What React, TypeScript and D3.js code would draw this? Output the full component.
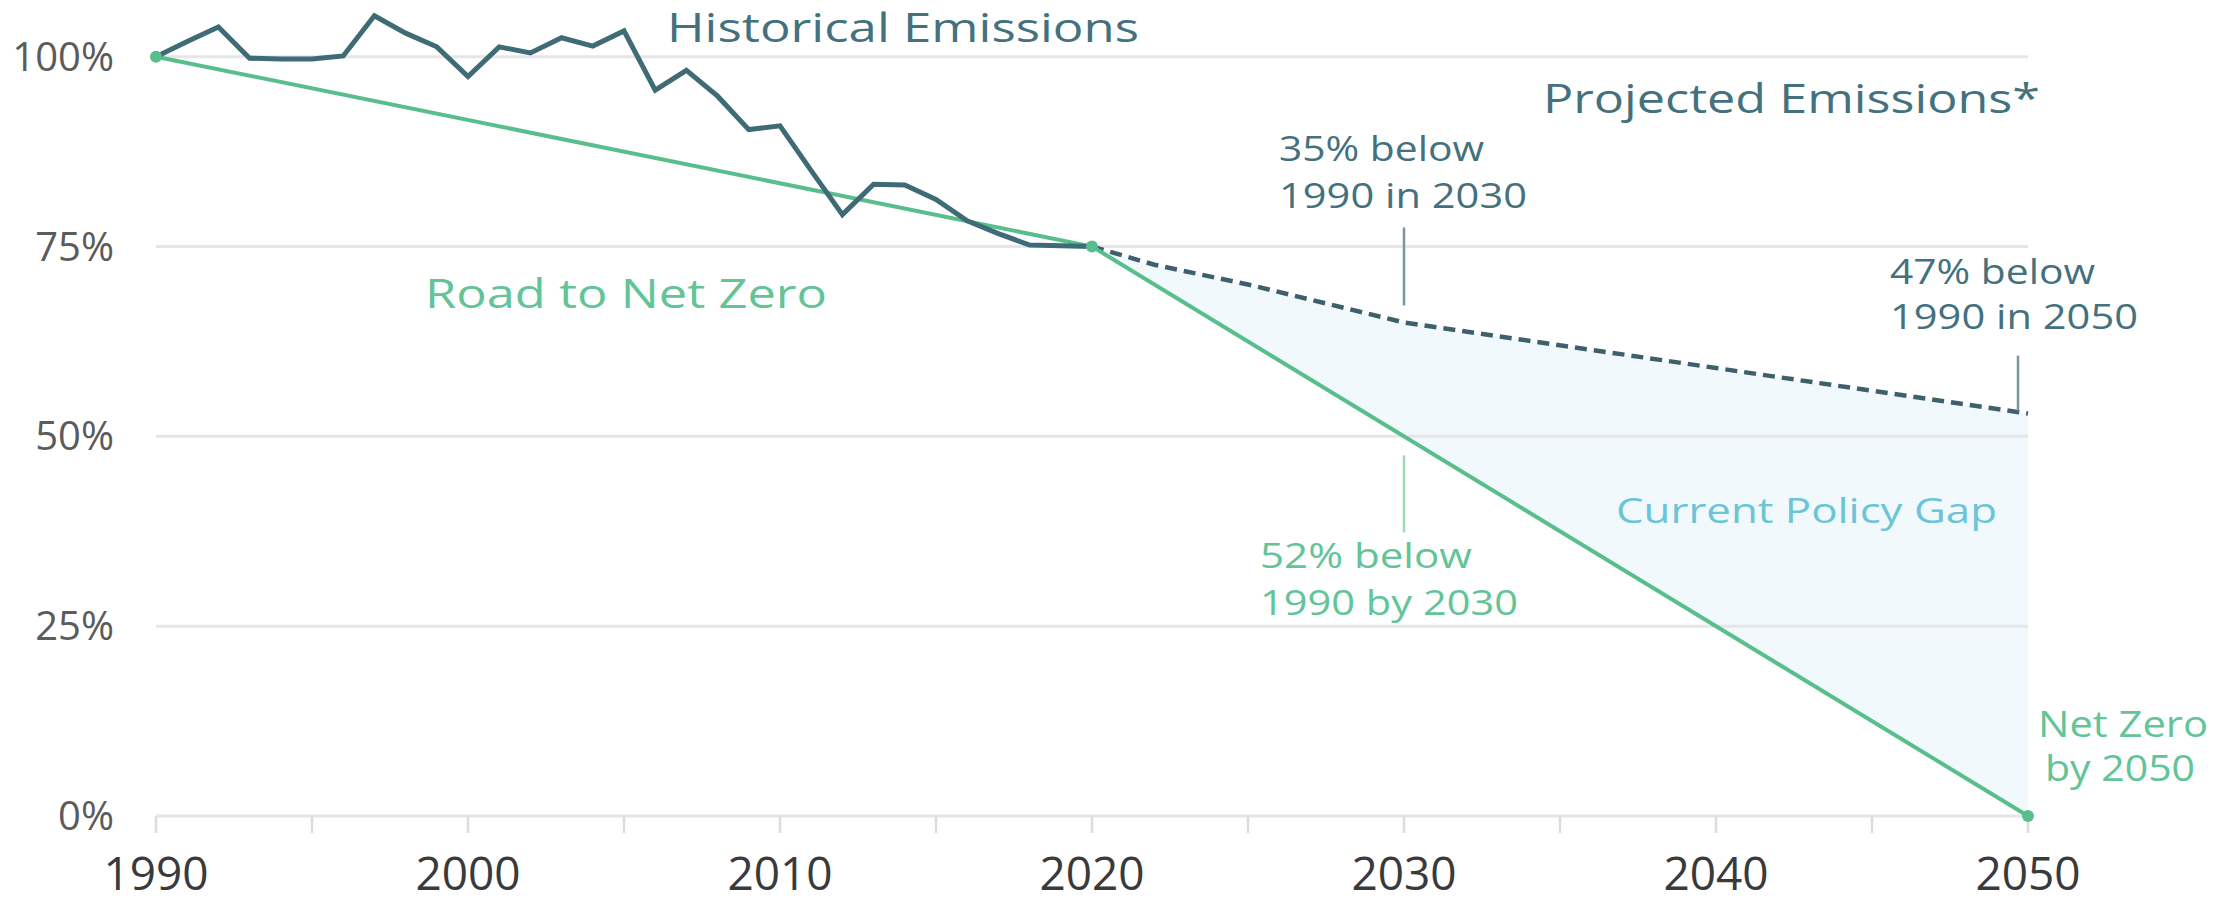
import React from "react";
import * as d3 from "d3";

const W = 2213;
const H = 904;

const histYears = d3.range(1990, 2021);
const historical = [
  100, 102, 103.9, 99.8, 99.7, 99.7, 100.1, 105.4, 103.1, 101.3, 97.4,
  101.3, 100.5, 102.5, 101.4, 103.4, 95.6, 98.2, 94.8, 90.4, 90.9,
  85.0, 79.2, 83.2, 83.1, 81.2, 78.4, 76.7, 75.2, 75.1, 75.0,
];

const projYears = [2020, 2022, 2025, 2030, 2040, 2050];
const projected = [75, 72.6, 70, 65, 59, 53];

const netZeroYears = [1990, 2020, 2050];
const netZero = [100, 75, 0];

const yTicks = [0, 25, 50, 75, 100];
const yTickLabels = ["0%", "25%", "50%", "75%", "100%"];
const xLabelYears = [1990, 2000, 2010, 2020, 2030, 2040, 2050];
const xTickYears = d3.range(1990, 2051, 5);

const FONT = "'Open Sans', 'Noto Sans', sans-serif";
const TEAL = "#3f6b77";
const TEAL_TEXT = "#44717d";
const GREEN = "#58be8c";
const GREEN_TEXT = "#62c497";

export default function App() {
  const x = d3.scaleLinear().domain([1990, 2050]).range([156, 2028]);
  const y = d3.scaleLinear().domain([0, 100]).range([816, 56.7]);

  const line = d3
    .line<[number, number]>()
    .x((d) => x(d[0]))
    .y((d) => y(d[1]));

  const histPts = histYears.map((yr, i) => [yr, historical[i]] as [number, number]);
  const projPts = projYears.map((yr, i) => [yr, projected[i]] as [number, number]);
  const nzPts = netZeroYears.map((yr, i) => [yr, netZero[i]] as [number, number]);

  const gapPts: [number, number][] = [
    ...projPts,
    ...nzPts.filter((p) => p[0] >= 2020).reverse(),
  ];
  const gapPath = line(gapPts) + "Z";

  const x2030 = x(2030);
  const x2050 = x(2050);

  return (
    <svg
      width={W}
      height={H}
      style={{ position: "absolute", left: 0, top: 0, background: "#fff" }}
      fontFamily={FONT}
    >
      <rect x={0} y={0} width={W} height={H} fill="#fff" />
      {/* shaded gap */}
      <path d={gapPath} fill="#f1f9fc" stroke="none" />

      {/* gridlines */}
      {yTicks.map((t) => (
        <line
          key={t}
          x1={x(1990)}
          x2={x(2050)}
          y1={y(t)}
          y2={y(t)}
          stroke="#e6e6e6"
          strokeWidth={3}
        />
      ))}
      {/* x ticks */}
      {xTickYears.map((yr) => (
        <line
          key={yr}
          x1={x(yr)}
          x2={x(yr)}
          y1={y(0)}
          y2={y(0) + 17}
          stroke="#dcdcdc"
          strokeWidth={2.5}
        />
      ))}

      {/* y labels */}
      {yTicks.map((t, i) => (
        <text
          key={t}
          x={114}
          y={y(t) + 14}
          textAnchor="end"
          fontSize={40}
          fill="#5b5b5b"
          fontWeight={500}
        >
          {yTickLabels[i]}
        </text>
      ))}
      {/* x labels */}
      {xLabelYears.map((yr) => (
        <text
          key={yr}
          x={x(yr)}
          y={890}
          textAnchor="middle"
          fontSize={46}
          fill="#3a3a3a"
          fontWeight={500}
        >
          {yr}
        </text>
      ))}

      {/* projected dashed */}
      <path
        d={line(projPts) || ""}
        fill="none"
        stroke="#3e5f6b"
        strokeWidth={4.5}
        strokeDasharray="12 7"
      />

      {/* net zero road */}
      <path d={line(nzPts) || ""} fill="none" stroke={GREEN} strokeWidth={4} />

      {/* historical */}
      <path
        d={line(histPts) || ""}
        fill="none"
        stroke={TEAL}
        strokeWidth={5}
        strokeLinejoin="miter"
      />

      {nzPts.map((p) => (
        <circle key={p[0]} cx={x(p[0])} cy={y(p[1])} r={6} fill={GREEN} />
      ))}

      {/* leader lines */}
      <line
        x1={x2030}
        x2={x2030}
        y1={y(65) - 95}
        y2={y(65) - 17}
        stroke="#7a969e"
        strokeWidth={2.5}
      />
      <line
        x1={x2050 - 10}
        x2={x2050 - 10}
        y1={y(53) - 58}
        y2={y(53) - 3}
        stroke="#7a969e"
        strokeWidth={2.5}
      />
      <line
        x1={x2030}
        x2={x2030}
        y1={y(50) + 19}
        y2={y(50) + 96}
        stroke="#9fd9bb"
        strokeWidth={2.5}
      />

      {/* labels */}
      <text x={667} y={42} fontSize={40} fill={TEAL_TEXT} fontWeight={500} textLength={472} lengthAdjust="spacingAndGlyphs">
        Historical Emissions
      </text>
      <text x={1543} y={113} fontSize={40} fill={TEAL_TEXT} fontWeight={500} textLength={497} lengthAdjust="spacingAndGlyphs">
        Projected Emissions*
      </text>
      <text x={425} y={308} fontSize={40} fill={GREEN_TEXT} fontWeight={500} textLength={402} lengthAdjust="spacingAndGlyphs">
        Road to Net Zero
      </text>

      <text x={x2030 - 125} y={161} fontSize={35} fill={TEAL_TEXT} fontWeight={500} textLength={205} lengthAdjust="spacingAndGlyphs">
        35% below
      </text>
      <text x={x2030 - 125} y={208} fontSize={35} fill={TEAL_TEXT} fontWeight={500} textLength={248} lengthAdjust="spacingAndGlyphs">
        1990 in 2030
      </text>

      <text x={x2050 - 138} y={284} fontSize={35} fill={TEAL_TEXT} fontWeight={500} textLength={205} lengthAdjust="spacingAndGlyphs">
        47% below
      </text>
      <text x={x2050 - 138} y={329} fontSize={35} fill={TEAL_TEXT} fontWeight={500} textLength={248} lengthAdjust="spacingAndGlyphs">
        1990 in 2050
      </text>

      <text x={x2030 - 144} y={568} fontSize={35} fill={GREEN_TEXT} fontWeight={500} textLength={212} lengthAdjust="spacingAndGlyphs">
        52% below
      </text>
      <text x={x2030 - 144} y={615} fontSize={35} fill={GREEN_TEXT} fontWeight={500} textLength={258} lengthAdjust="spacingAndGlyphs">
        1990 by 2030
      </text>

      <text x={1616} y={523} fontSize={35} fill="#6cc4d7" fontWeight={500} textLength={381} lengthAdjust="spacingAndGlyphs">
        Current Policy Gap
      </text>

      <text x={2038} y={737} fontSize={36} fill={GREEN_TEXT} fontWeight={500} textLength={170} lengthAdjust="spacingAndGlyphs">
        Net Zero
      </text>
      <text x={2045} y={781} fontSize={36} fill={GREEN_TEXT} fontWeight={500} textLength={150} lengthAdjust="spacingAndGlyphs">
        by 2050
      </text>
    </svg>
  );
}
